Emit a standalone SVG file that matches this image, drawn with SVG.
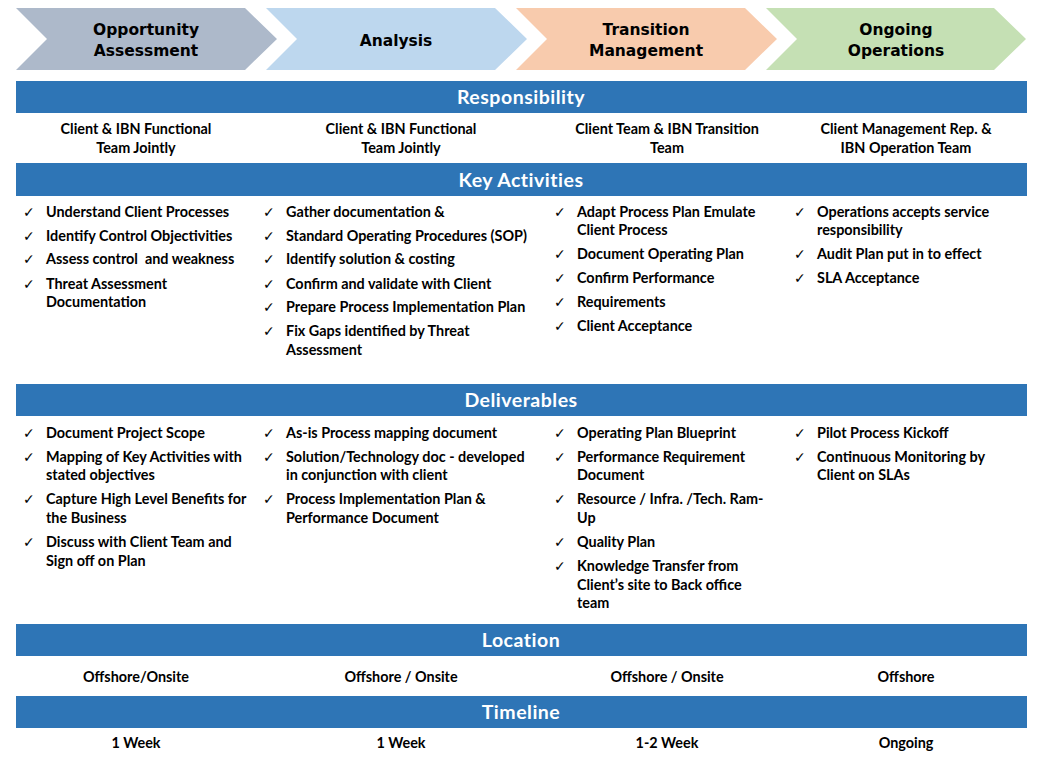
<svg xmlns="http://www.w3.org/2000/svg" width="1043" height="759" viewBox="0 0 1043 759">
<style>
.chev text{font-family:"DejaVu Sans",Verdana,sans-serif;font-weight:bold;font-size:15.5px;fill:#000;text-anchor:middle}
.bar rect{fill:#2E75B6}
.bar text{font-family:Lato,"Liberation Sans",sans-serif;font-weight:bold;font-size:19.5px;letter-spacing:0.5px;fill:#fff;text-anchor:middle}
.t{font-family:Lato,"Liberation Sans",sans-serif;font-weight:bold;font-size:14.4px;fill:#000}
.c{text-anchor:middle}
.ck{font-family:"DejaVu Sans",sans-serif;font-size:14px;fill:#000}
</style>
<rect width="1043" height="759" fill="#fff"/>
<g id="phase1" class="chev"><polygon points="16,8 245,8 277,39 245,70 16,70 47,39" fill="#ADB9CA"/><text x="146" y="35">Opportunity</text><text x="146" y="56">Assessment</text></g>
<g id="phase2" class="chev"><polygon points="266,8 495,8 527,39 495,70 266,70 297,39" fill="#BDD7EE"/><text x="396" y="46">Analysis</text></g>
<g id="phase3" class="chev"><polygon points="516,8 745,8 777,39 745,70 516,70 547,39" fill="#F8CBAD"/><text x="646" y="35">Transition</text><text x="646" y="56">Management</text></g>
<g id="phase4" class="chev"><polygon points="766,8 994,8 1026,39 994,70 766,70 797,39" fill="#C5E0B4"/><text x="896" y="35">Ongoing</text><text x="896" y="56">Operations</text></g>

<g id="bar-responsibility" class="bar"><rect x="16" y="81" width="1011" height="32"/><text x="521" y="104">Responsibility</text></g>
<g id="responsibility" class="t c">
<text x="136" y="134">Client &amp; IBN Functional</text><text x="136" y="153">Team Jointly</text>
<text x="401" y="134">Client &amp; IBN Functional</text><text x="401" y="153">Team Jointly</text>
<text x="667" y="134">Client Team &amp; IBN Transition</text><text x="667" y="153">Team</text>
<text x="906" y="134">Client Management Rep. &amp;</text><text x="906" y="153">IBN Operation Team</text>
</g>

<g id="bar-key" class="bar"><rect x="16" y="163" width="1011" height="33"/><text x="521" y="187">Key Activities</text></g>
<g id="key-activities">
<g class="ck"><text x="23" y="217">✓</text><text x="23" y="241">✓</text><text x="23" y="264">✓</text><text x="23" y="289">✓</text>
<text x="263" y="217">✓</text><text x="263" y="241">✓</text><text x="263" y="264">✓</text><text x="263" y="289">✓</text><text x="263" y="312">✓</text><text x="263" y="336">✓</text>
<text x="554" y="217">✓</text><text x="554" y="259">✓</text><text x="554" y="283">✓</text><text x="554" y="307">✓</text><text x="554" y="331">✓</text>
<text x="794" y="217">✓</text><text x="794" y="259">✓</text><text x="794" y="283">✓</text></g>
<g class="t">
<text x="46" y="217">Understand Client Processes</text>
<text x="46" y="241">Identify Control Objectivities</text>
<text x="46" y="264" xml:space="preserve">Assess control  and weakness</text>
<text x="46" y="289">Threat Assessment</text><text x="46" y="307">Documentation</text>
<text x="286" y="217">Gather documentation &amp;</text>
<text x="286" y="241">Standard Operating Procedures (SOP)</text>
<text x="286" y="264">Identify solution &amp; costing</text>
<text x="286" y="289">Confirm and validate with Client</text>
<text x="286" y="312">Prepare Process Implementation Plan</text>
<text x="286" y="336">Fix Gaps identified by Threat</text><text x="286" y="355">Assessment</text>
<text x="577" y="217">Adapt Process Plan Emulate</text><text x="577" y="235">Client Process</text>
<text x="577" y="259">Document Operating Plan</text>
<text x="577" y="283">Confirm Performance</text>
<text x="577" y="307">Requirements</text>
<text x="577" y="331">Client Acceptance</text>
<text x="817" y="217">Operations accepts service</text><text x="817" y="235">responsibility</text>
<text x="817" y="259">Audit Plan put in to effect</text>
<text x="817" y="283">SLA Acceptance</text>
</g></g>

<g id="bar-deliverables" class="bar"><rect x="16" y="384" width="1011" height="32"/><text x="521" y="407">Deliverables</text></g>
<g id="deliverables">
<g class="ck"><text x="23" y="438">✓</text><text x="23" y="462">✓</text><text x="23" y="504">✓</text><text x="23" y="547">✓</text>
<text x="263" y="438">✓</text><text x="263" y="462">✓</text><text x="263" y="504">✓</text>
<text x="554" y="438">✓</text><text x="554" y="462">✓</text><text x="554" y="504">✓</text><text x="554" y="547">✓</text><text x="554" y="571">✓</text>
<text x="794" y="438">✓</text><text x="794" y="462">✓</text></g>
<g class="t">
<text x="46" y="438">Document Project Scope</text>
<text x="46" y="462">Mapping of Key Activities with</text><text x="46" y="480">stated objectives</text>
<text x="46" y="504">Capture High Level Benefits for</text><text x="46" y="523">the Business</text>
<text x="46" y="547">Discuss with Client Team and</text><text x="46" y="566">Sign off on Plan</text>
<text x="286" y="438">As-is Process mapping document</text>
<text x="286" y="462">Solution/Technology doc - developed</text><text x="286" y="480">in conjunction with client</text>
<text x="286" y="504">Process Implementation Plan &amp;</text><text x="286" y="523">Performance Document</text>
<text x="577" y="438">Operating Plan Blueprint</text>
<text x="577" y="462">Performance Requirement</text><text x="577" y="480">Document</text>
<text x="577" y="504">Resource / Infra. /Tech. Ram-</text><text x="577" y="523">Up</text>
<text x="577" y="547">Quality Plan</text>
<text x="577" y="571">Knowledge Transfer from</text><text x="577" y="590">Client’s site to Back office</text><text x="577" y="608">team</text>
<text x="817" y="438">Pilot Process Kickoff</text>
<text x="817" y="462">Continuous Monitoring by</text><text x="817" y="480">Client on SLAs</text>
</g></g>

<g id="bar-location" class="bar"><rect x="16" y="624" width="1011" height="32"/><text x="521" y="647">Location</text></g>
<g id="location" class="t c">
<text x="136" y="682">Offshore/Onsite</text><text x="401" y="682">Offshore / Onsite</text><text x="667" y="682">Offshore / Onsite</text><text x="906" y="682">Offshore</text>
</g>

<g id="bar-timeline" class="bar"><rect x="16" y="696" width="1011" height="32"/><text x="521" y="719">Timeline</text></g>
<g id="timeline" class="t c">
<text x="136" y="748">1 Week</text><text x="401" y="748">1 Week</text><text x="667" y="748">1-2 Week</text><text x="906" y="748">Ongoing</text>
</g>
</svg>
